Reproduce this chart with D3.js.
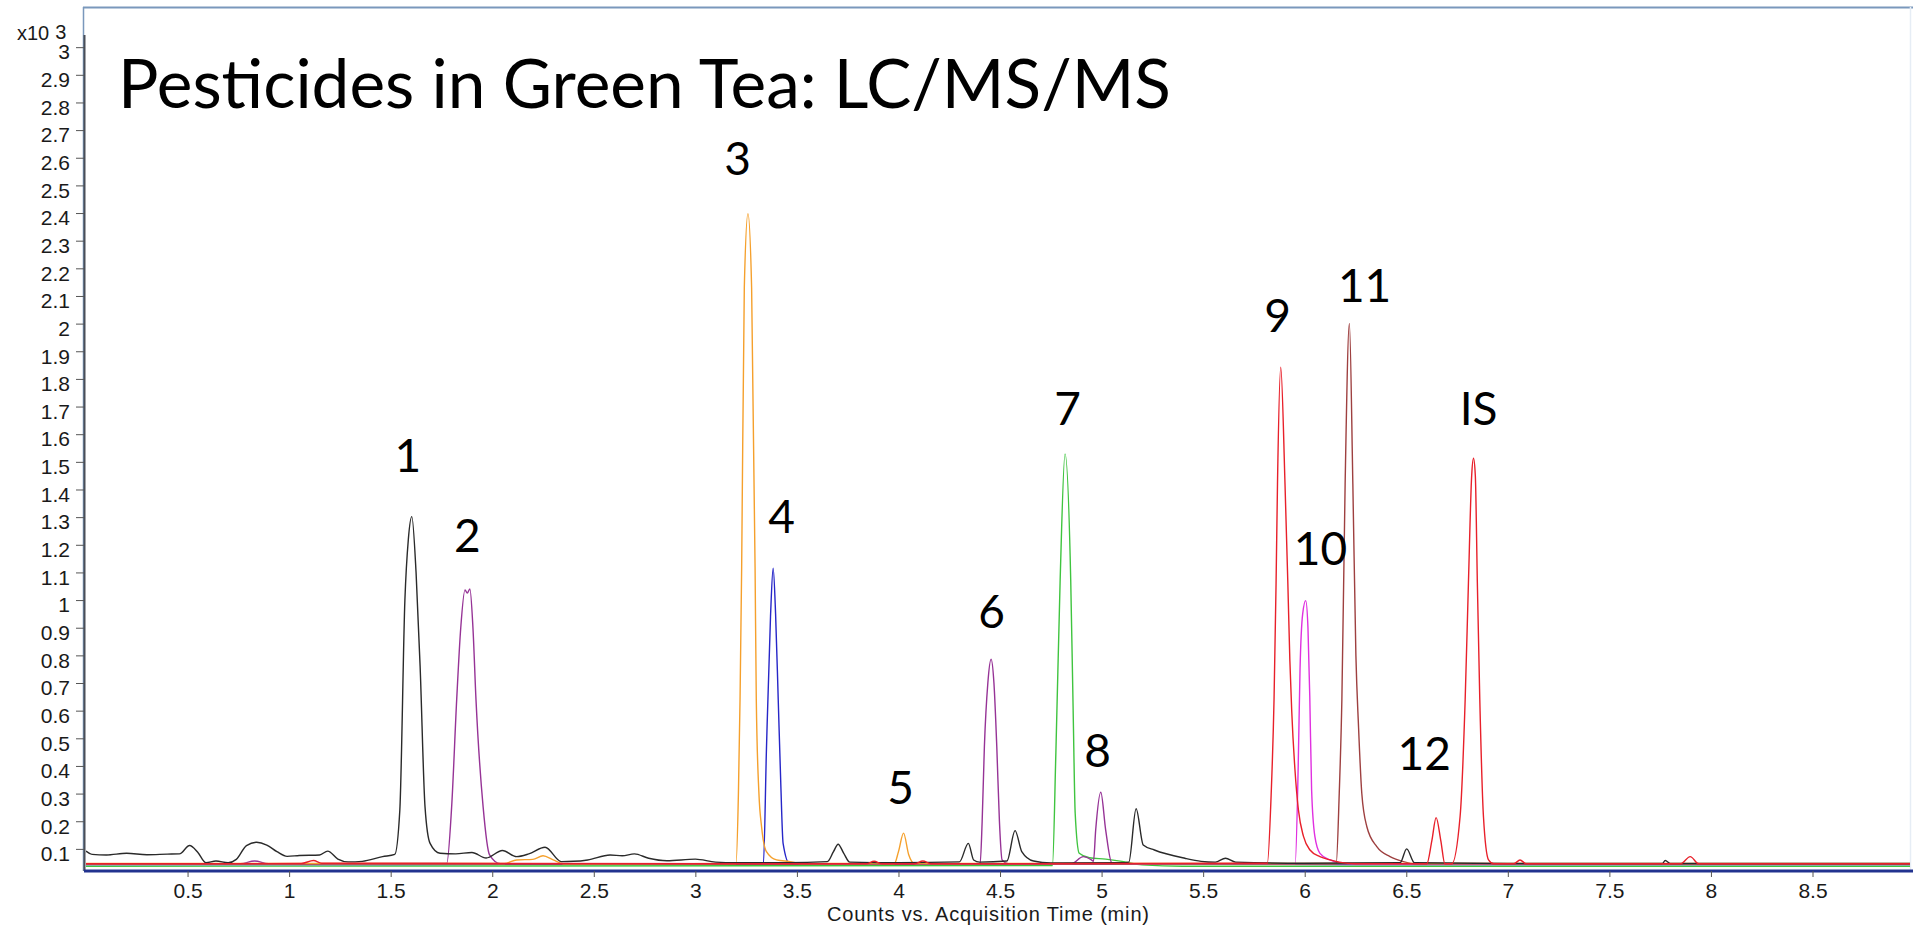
<!DOCTYPE html>
<html>
<head>
<meta charset="utf-8">
<script src="https://cdnjs.cloudflare.com/ajax/libs/d3/7.8.5/d3.min.js"></script>
<style>
  html, body { margin: 0; padding: 0; background: #fff; }
  svg { display: block; }
</style>
</head>
<body>
<svg id="chart" width="1913" height="928"></svg>
<script>
// ---------- DATA (counts in x10^3, time in minutes) ----------
const chartTitle = "Pesticides in Green Tea: LC/MS/MS";
const xAxisTitle = "Counts vs. Acquisition Time (min)";
const yExponentLabel = ["x10", "3"];

const xTickValues = [0.5, 1, 1.5, 2, 2.5, 3, 3.5, 4, 4.5, 5, 5.5, 6, 6.5, 7, 7.5, 8, 8.5];
const yTickValues = [0.1, 0.2, 0.3, 0.4, 0.5, 0.6, 0.7, 0.8, 0.9, 1, 1.1, 1.2, 1.3, 1.4, 1.5,
                     1.6, 1.7, 1.8, 1.9, 2, 2.1, 2.2, 2.3, 2.4, 2.5, 2.6, 2.7, 2.8, 2.9, 3];

const greenTrace = [[0.00,0.037],[4.758,0.040],[4.775,0.45],[4.796,1.073],[4.82,1.529],[4.848,1.073],[4.86,0.60],[4.87,0.229],[4.89,0.084],[4.94,0.068],[5.02,0.063],[5.10,0.055],[5.20,0.042],[5.40,0.037],[8.98,0.037]];

const blueTrace = [[0.00,0.043],[3.335,0.045],[3.35,0.46],[3.37,0.94],[3.383,1.115],[3.395,0.95],[3.408,0.64],[3.42,0.35],[3.432,0.12],[3.465,0.045],[8.98,0.043]];

const purpleTrace = [[0.00,0.046],[0.76,0.046],[0.83,0.056],[0.90,0.046],[1.776,0.047],[1.80,0.25],[1.825,0.64],[1.845,0.90],[1.866,1.037],[1.877,1.025],[1.89,1.040],[1.905,0.90],[1.92,0.64],[1.955,0.253],[1.987,0.078],[2.04,0.046],[4.402,0.046],[4.412,0.2],[4.423,0.47],[4.44,0.70],[4.456,0.786],[4.47,0.70],[4.484,0.47],[4.497,0.2],[4.51,0.06],[4.54,0.046],[4.85,0.046],[4.91,0.072],[4.95,0.060],[4.96,0.055],[4.971,0.169],[4.996,0.305],[5.02,0.169],[5.05,0.050],[5.10,0.046],[8.98,0.046]];

const magentaTrace = [[0.00,0.045],[5.953,0.046],[5.968,0.40],[5.977,0.75],[5.99,0.95],[6.005,0.998],[6.016,0.90],[6.025,0.65],[6.034,0.313],[6.05,0.145],[6.075,0.084],[6.125,0.060],[6.17,0.050],[6.30,0.045],[8.98,0.045]];

const brownTrace = [[0.00,0.045],[6.155,0.046],[6.17,0.30],[6.183,0.64],[6.199,1.42],[6.22,2.001],[6.237,1.42],[6.252,0.80],[6.265,0.542],[6.281,0.301],[6.306,0.18],[6.355,0.108],[6.42,0.072],[6.486,0.054],[6.55,0.046],[8.98,0.045]];

const orangeTrace = [[0.00,0.047],[2.06,0.047],[2.12,0.060],[2.20,0.062],[2.25,0.075],[2.30,0.060],[2.35,0.046],[3.20,0.047],[3.212,0.30],[3.22,0.64],[3.228,1.12],[3.241,2.13],[3.259,2.398],[3.277,2.13],[3.294,1.12],[3.30,0.64],[3.313,0.30],[3.326,0.18],[3.35,0.09],[3.40,0.060],[3.465,0.054],[3.52,0.047],[3.98,0.047],[4.00,0.090],[4.025,0.157],[4.05,0.080],[4.08,0.047],[8.98,0.047]];

const blackTrace = [[0.00,0.092],[0.03,0.080],[0.10,0.078],[0.20,0.084],[0.30,0.079],[0.40,0.081],[0.46,0.082],[0.51,0.112],[0.55,0.088],[0.59,0.050],[0.64,0.056],[0.70,0.050],[0.74,0.062],[0.79,0.112],[0.84,0.124],[0.89,0.114],[0.94,0.090],[0.99,0.073],[1.05,0.076],[1.15,0.078],[1.19,0.092],[1.24,0.063],[1.29,0.053],[1.36,0.055],[1.46,0.072],[1.52,0.080],[1.545,0.24],[1.57,1.00],[1.587,1.22],[1.604,1.302],[1.625,1.10],[1.645,0.76],[1.669,0.253],[1.694,0.12],[1.743,0.084],[1.82,0.082],[1.90,0.087],[1.97,0.067],[2.05,0.094],[2.12,0.072],[2.18,0.082],[2.26,0.106],[2.34,0.054],[2.40,0.055],[2.47,0.060],[2.58,0.078],[2.64,0.075],[2.70,0.082],[2.77,0.066],[2.86,0.057],[3.00,0.063],[3.10,0.052],[3.20,0.050],[3.45,0.050],[3.65,0.054],[3.68,0.09],[3.703,0.117],[3.73,0.085],[3.76,0.052],[4.00,0.050],[4.30,0.053],[4.344,0.120],[4.37,0.060],[4.40,0.052],[4.534,0.056],[4.574,0.166],[4.607,0.090],[4.665,0.056],[4.75,0.049],[5.10,0.050],[5.134,0.052],[5.17,0.245],[5.205,0.114],[5.26,0.096],[5.41,0.066],[5.49,0.055],[5.56,0.052],[5.61,0.066],[5.66,0.052],[6.00,0.048],[6.47,0.050],[6.502,0.100],[6.54,0.050],[7.00,0.047],[7.76,0.047],[7.775,0.058],[7.80,0.047],[8.98,0.047]];

const redTrace = [[0.00,0.046],[1.06,0.047],[1.12,0.058],[1.16,0.048],[3.84,0.046],[3.88,0.055],[3.92,0.046],[4.08,0.046],[4.12,0.056],[4.16,0.046],[5.816,0.048],[5.835,0.30],[5.849,0.64],[5.859,1.06],[5.866,1.42],[5.882,1.842],[5.903,1.42],[5.917,1.06],[5.927,0.78],[5.936,0.60],[5.952,0.386],[5.969,0.241],[5.994,0.145],[6.026,0.096],[6.075,0.072],[6.125,0.060],[6.17,0.052],[6.25,0.046],[6.601,0.046],[6.626,0.13],[6.647,0.213],[6.67,0.13],[6.69,0.046],[6.724,0.046],[6.765,0.217],[6.79,0.64],[6.806,1.06],[6.822,1.45],[6.831,1.513],[6.84,1.45],[6.85,1.06],[6.862,0.64],[6.88,0.217],[6.905,0.060],[6.93,0.046],[7.03,0.046],[7.06,0.060],[7.09,0.046],[7.85,0.046],[7.898,0.072],[7.94,0.046],[8.98,0.046]];

const seriesNames  = ["green", "blue", "purple", "magenta", "brown", "orange", "black", "red"];
const seriesData   = [greenTrace, blueTrace, purpleTrace, magentaTrace, brownTrace, orangeTrace, blackTrace, redTrace];
const seriesColors = ["#3fc43f", "#2626c8", "#963396", "#e030e0", "#9e4040", "#f5a02c", "#2a2a2a", "#e8202a"];

const peakLabels = ["1", "2", "3", "4", "5", "6", "7", "8", "9", "10", "11", "12", "IS"];
const peakLabelTimes  = [1.585, 1.878, 3.208, 3.424, 4.010, 4.458, 4.833, 4.980, 5.867, 6.078, 6.295, 6.588, 6.856];
const peakLabelCounts = [1.463, 1.174, 2.538, 1.243, 0.263, 0.899, 1.633, 0.397, 1.970, 1.127, 2.078, 0.386, 1.633];

// ---------- LAYOUT ----------
const svg = d3.select("#chart");
const plotLeft = 86, plotRight = 1910, plotTop = 35, plotBottom = 871;

const x = d3.scaleLinear().domain([0, 8.98]).range([plotLeft, plotRight]);
const y = d3.scaleLinear().domain([0.02, 3.044]).range([plotBottom, plotTop]);

svg.append("rect").attr("width", 1913).attr("height", 928).attr("fill", "#fff");

// window frame (light steel blue)
svg.append("line").attr("x1", 83).attr("x2", 1913).attr("y1", 7.5).attr("y2", 7.5)
  .attr("stroke", "#7a98bc").attr("stroke-width", 2);
svg.append("line").attr("x1", 83.5).attr("x2", 83.5).attr("y1", 7).attr("y2", plotBottom)
  .attr("stroke", "#7a98bc").attr("stroke-width", 1.5);
svg.append("line").attr("x1", 1910.5).attr("x2", 1910.5).attr("y1", 7).attr("y2", plotBottom)
  .attr("stroke", "#e6edf5").attr("stroke-width", 1.5);

// clip for traces
svg.append("clipPath").attr("id", "plotclip").append("rect")
  .attr("x", plotLeft).attr("y", 8).attr("width", 1913 - plotLeft).attr("height", plotBottom - 8);

const line = d3.line()
  .x(d => x(d[0]))
  .y(d => y(d[1]))
  .curve(d3.curveMonotoneX);

const traces = svg.append("g").attr("clip-path", "url(#plotclip)");
seriesData.forEach((data, i) => {
  traces.append("path")
    .datum(data)
    .attr("class", "trace " + seriesNames[i])
    .attr("fill", "none")
    .attr("stroke", seriesColors[i])
    .attr("stroke-width", 1.4)
    .attr("stroke-linejoin", "round")
    .attr("d", line);
});

// Y axis
const yAxis = d3.axisLeft(y)
  .tickValues(yTickValues)
  .tickFormat(d3.format("~g"))
  .tickSize(8)
  .tickPadding(6)
  .tickSizeOuter(0);
const gy = svg.append("g").attr("transform", "translate(84,0)").call(yAxis);
gy.select(".domain").attr("stroke", "#4a4f58").attr("stroke-width", 2)
  .attr("d", `M0.5,${plotTop}V${plotBottom}`);
gy.selectAll(".tick line").attr("stroke", "#555").attr("stroke-width", 1);
gy.selectAll(".tick text")
  .attr("font-family", "'Liberation Sans', Arial, sans-serif")
  .attr("font-size", 21)
  .attr("fill", "#1a1a1a")
  .attr("dy", "0.56em");

// X axis
const xAxis = d3.axisBottom(x)
  .tickValues(xTickValues)
  .tickFormat(d3.format("~g"))
  .tickSize(6)
  .tickPadding(6)
  .tickSizeOuter(0);
const gx = svg.append("g").attr("transform", `translate(0,${plotBottom})`).call(xAxis);
gx.select(".domain").attr("stroke", "#22338f").attr("stroke-width", 3)
  .attr("d", `M84,0H1913`);
gx.selectAll(".tick line").attr("stroke", "#555").attr("stroke-width", 1);
gx.selectAll(".tick text")
  .attr("font-family", "'Liberation Sans', Arial, sans-serif")
  .attr("font-size", 21)
  .attr("fill", "#1a1a1a");

// axis title
svg.append("text")
  .attr("x", 988).attr("y", 921)
  .attr("text-anchor", "middle")
  .attr("font-family", "'Liberation Sans', Arial, sans-serif")
  .attr("font-size", 20)
  .attr("textLength", 322)
  .attr("fill", "#1a1a1a")
  .text(xAxisTitle);

// exponent label
const expText = svg.append("text")
  .attr("x", 17).attr("y", 40)
  .attr("font-family", "'Liberation Sans', Arial, sans-serif")
  .attr("font-size", 20)
  .attr("fill", "#1a1a1a");
expText.append("tspan").text(yExponentLabel[0]);
expText.append("tspan").attr("dx", 6).attr("dy", -1).text(yExponentLabel[1]);

// title
svg.append("text")
  .attr("x", 118).attr("y", 108)
  .attr("font-family", "Lato, 'Open Sans', sans-serif")
  .attr("font-size", 67.5)
  .attr("fill", "#000")
  .text(chartTitle);

// peak labels
svg.append("g").selectAll("text")
  .data(peakLabels)
  .join("text")
  .attr("x", (d, i) => x(peakLabelTimes[i]))
  .attr("y", (d, i) => y(peakLabelCounts[i]))
  .attr("text-anchor", "middle")
  .attr("font-family", "Lato, 'Open Sans', sans-serif")
  .attr("font-size", 46)
  .attr("fill", "#000")
  .text(d => d);
</script>
</body>
</html>
